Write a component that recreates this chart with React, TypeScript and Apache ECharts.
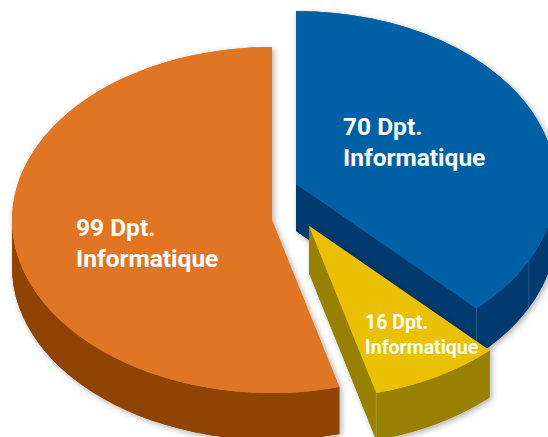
import React, { useEffect, useRef } from "react";
import * as echarts from "echarts";

const WIDTH = 548;
const HEIGHT = 437;

// Drawn back to front, so that the yellow slice overlaps the blue one.
const sliceNames = ["blue", "orange", "yellow"];
const counts = [70, 99, 16];
const unitLabel = "Dpt.\nInformatique";
// Angular sweep of each slice (degrees, clockwise from 12 o'clock).
const startAngles = [0, 165, 136];
const sweepAngles = [136, 195, 29];

const topColors = ["#0060A6", "#E07623", "#E9C003"];
const sideColors = ["#003A6F", "#8F4404", "#988000"];
const seamColors = ["rgba(120,165,205,0.3)", "transparent", "rgba(225,205,120,0.3)"];
const centers = [
  [296, 184],
  [272, 220],
  [309, 226],
];
const labelPositions = [
  [343, 142],
  [76, 243],
  [365, 335],
];
const labelFontSizes = [24.5, 24.5, 19.5];
const labelLineHeights = [31, 31, 25];
const extraRimSeams = [[116.4], [], []];

const RX = 260;
const RY = 173;
const DEPTH = 47;

const pt = (c: number[], deg: number, dy = 0): number[] => {
  const r = (deg * Math.PI) / 180;
  return [c[0] + RX * Math.sin(r), c[1] - RY * Math.cos(r) + dy];
};
const arcTo = (p: number[], from: number, to: number) => {
  const large = Math.abs(to - from) > 180 ? 1 : 0;
  const sweep = to > from ? 1 : 0;
  return `A ${RX} ${RY} 0 ${large} ${sweep} ${p[0]} ${p[1]}`;
};

const topPath = (c: number[], a0: number, a1: number) => {
  const s = pt(c, a0);
  const e = pt(c, a1);
  return `M ${c[0]} ${c[1]} L ${s[0]} ${s[1]} ${arcTo(e, a0, a1)} Z`;
};
const rimPath = (c: number[], a0: number, a1: number) => {
  const s = pt(c, a0);
  const e = pt(c, a1);
  const sb = pt(c, a0, DEPTH);
  const eb = pt(c, a1, DEPTH);
  return `M ${s[0]} ${s[1]} ${arcTo(e, a0, a1)} L ${eb[0]} ${eb[1]} ${arcTo(sb, a1, a0)} Z`;
};
const cutPath = (c: number[], a: number) => {
  const e = pt(c, a);
  return `M ${c[0]} ${c[1]} L ${e[0]} ${e[1]} L ${e[0]} ${e[1] + DEPTH} L ${c[0]} ${c[1] + DEPTH} Z`;
};

const shadow = {
  shadowBlur: 6,
  shadowColor: "rgba(0,0,0,0.32)",
  shadowOffsetX: 2,
  shadowOffsetY: 2,
};

const renderSlice = (params: any, api: any) => {
  const i = params.dataIndex;
  const a0 = api.value(1) as number;
  const a1 = a0 + (api.value(2) as number);
  const c = centers[i];
  const side: string[] = [];
  const rimStart = Math.max(a0, 90);
  const rimEnd = Math.min(a1, 270);
  if (rimEnd > rimStart) side.push(rimPath(c, rimStart, rimEnd));
  if (a1 > 0 && a1 < 180) side.push(cutPath(c, a1));
  if (a0 > 180 && a0 < 360) side.push(cutPath(c, a0));
  const sidePaths = (style: any) =>
    side.map((pathData) => ({
      type: "path",
      shape: { pathData },
      style: { fill: sideColors[i], ...style },
    }));
  const top = (style: any) => ({
    type: "path",
    shape: { pathData: topPath(c, a0, a1) },
    style: { fill: topColors[i], ...style },
  });
  const seamAngles = [...extraRimSeams[i]];
  if (a1 > 90 && a1 < 180) seamAngles.push(a1);
  const seams = seamAngles.map((a) => {
    const p = pt(c, a);
    return {
      type: "line",
      shape: { x1: p[0], y1: p[1], x2: p[0], y2: p[1] + DEPTH },
      style: { stroke: seamColors[i], lineWidth: 1 },
    };
  });
  const [lx, ly] = labelPositions[i];
  return {
    type: "group",
    children: [
      ...sidePaths(shadow),
      top(shadow),
      ...sidePaths({}),
      ...seams,
      top({}),
      {
        type: "text",
        x: lx,
        y: ly,
        style: {
          text: `${api.value(0)} ${unitLabel}`,
          fill: "#FFFFFF",
          fontFamily: "Roboto",
          fontWeight: 700,
          fontSize: labelFontSizes[i],
          lineHeight: labelLineHeights[i],
          align: "left",
          verticalAlign: "middle",
        },
      },
    ],
  };
};

export default function App() {
  const ref = useRef<HTMLDivElement>(null);
  useEffect(() => {
    const chart = echarts.init(ref.current!, null, { renderer: "svg" });
    chart.setOption({
      animation: false,
      backgroundColor: "#FFFFFF",
      series: [
        {
          type: "custom",
          coordinateSystem: "none",
          renderItem: renderSlice,
          silent: true,
          clip: false,
          data: sliceNames.map((name, i) => ({
            name,
            value: [counts[i], startAngles[i], sweepAngles[i]],
          })),
        },
      ],
    });
    return () => chart.dispose();
  }, []);
  return (
    <div
      ref={ref}
      style={{ position: "absolute", left: 0, top: 0, width: WIDTH, height: HEIGHT, overflow: "hidden" }}
    />
  );
}
